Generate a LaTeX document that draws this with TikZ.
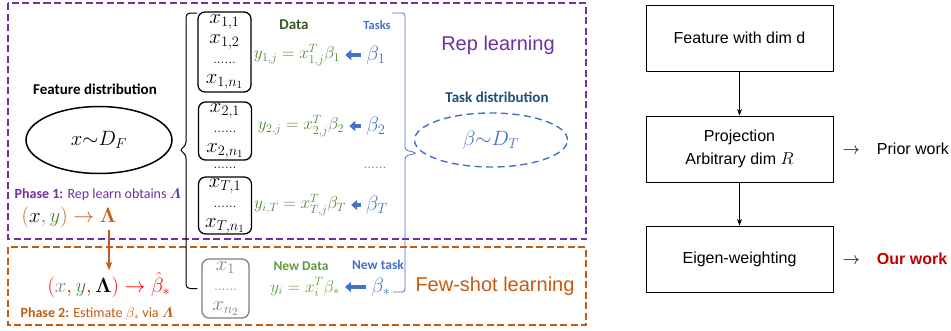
\documentclass[tikz,border=0pt]{standalone}
\usepackage{amsmath,amssymb,bm}
\usepackage{xcolor}
\usepackage{fontspec}
\setsansfont{Liberation Sans}
\newfontfamily\calibri{Carlito}
\usepackage{tikz}
\usetikzlibrary{shapes.geometric,arrows.meta,positioning}

\definecolor{replearn}{HTML}{7030A0}
\definecolor{fewshot}{HTML}{C55A11}
\definecolor{datagreen}{HTML}{385723}
\definecolor{eqgreen}{HTML}{548235}
\definecolor{newgreen}{HTML}{5E9B3A}
\definecolor{taskblue}{HTML}{4472C4}
\definecolor{distblue}{HTML}{1F4E79}
\definecolor{ourred}{HTML}{C00000}

\begin{document}
\begin{tikzpicture}[
		x=1pt, y=-1pt,
		>=Stealth,
		region/.style={draw, line width=1.4pt, dash pattern=on 7pt off 3.5pt},
		databox/.style={draw, rounded corners=7pt, line width=1.3pt, minimum width=53pt, inner sep=1pt, align=center, font={\fontsize{22}{20}\selectfont}},
		eqn/.style={text=eqgreen, inner sep=1pt, font={\fontsize{17.5}{18}\selectfont}},
		task/.style={text=taskblue, inner sep=1pt, font={\fontsize{22}{22}\selectfont}},
		tag/.style={inner sep=0pt, font={\calibri\bfseries\fontsize{#1}{#1}\selectfont}},
		phase/.style={inner sep=0pt, font={\calibri\fontsize{14}{16}\selectfont}},
		tuple/.style={inner sep=0pt, font={\fontsize{22}{22}\selectfont}},
		feed/.style={draw=taskblue, line width=3.4pt, -{Triangle[length=6pt,width=10pt]}, shorten <=4pt, shorten >=4pt},
		stage/.style={draw, line width=1pt, minimum width=187pt, minimum height=66pt, align=center, font={\sffamily\fontsize{16}{23}\selectfont}},
		remark/.style={inner sep=0pt, font={\sffamily\fontsize{16}{19}\selectfont}}
		]
		\useasboundingbox (0,0) rectangle (951,330);
		
		% Regions
		\draw[region, replearn] (8,3) rectangle (586,239);
		\draw[region, fewshot] (8,247) rectangle (586,325);
		
		% Feature distribution and the two phases
		\node[tag=15] (featlab) at (95,89) {Feature distribution};
		\node[ellipse, draw, line width=1.5pt, minimum width=146pt, minimum height=67pt, font={\fontsize{21}{22}\selectfont}] (feat) at (99,140) {$x{\sim}D_F$};
		\node[phase, text=replearn] (ph1) at (98,195) {\textbf{Phase 1:} Rep learn obtains $\boldsymbol{\varLambda}$};
		\node[tuple, text=fewshot] (tup1) at (69,217) {$(\textcolor{black}{x}, \textcolor{eqgreen}{y}) \rightarrow \boldsymbol{\Lambda}$};
		\node[tuple, text=red] (tup2) at (109,285) {$(\textcolor{gray}{x}, \textcolor{eqgreen}{y}, \textcolor{black}{\boldsymbol{\Lambda}}) \rightarrow \hat{\beta}_*$};
		\node[phase, text=fewshot] (ph2) at (97,314) {\textbf{Phase 2:} Estimate $\beta_*$ via $\boldsymbol{\varLambda}$};
		\draw[->, fewshot, line width=1.3pt] ([yshift=-2pt]tup1.south -| tup2.north) -- ([yshift=2pt]tup2.north);
		
		% Data sets
		\node[databox, minimum height=80pt] (set1) at (224.5,52) {$x_{1,1}$\\$x_{1,2}$\\{\fontsize{14}{20}\selectfont ......}\\$x_{1,n_1}$};
		\node[databox, minimum height=58pt] (set2) at (225,131) {$x_{2,1}$\\{\fontsize{14}{18}\selectfont ......}\\$x_{2,n_1}$};
		\node[font={\fontsize{14}{14}\selectfont}] (setdots) at (225,168) {......};
		\node[databox, minimum height=55pt] (setT) at (225,205.5) {$x_{T,1}$\\{\fontsize{14}{18}\selectfont ......}\\$x_{T,n_1}$};
		\node[databox, draw=gray, text=gray, minimum height=59pt, minimum width=47pt] (newset) at (225.5,288.5) {$x_1$\\{\fontsize{14}{18}\selectfont ......}\\$x_{n_2}$};
		
		% Brace over all data sets
		\draw[line width=1pt, rounded corners=4pt] (197,13) -- (186,13) -- (186,146) -- (179,150) -- (186,154) |- ([xshift=-4pt]newset.west);
		
		% Labels
		\node[tag=15, text=datagreen] (datalab) at (294,25) {Data};
		\node[tag=12.5, text=taskblue] (tasklab) at (377,25) {Tasks};
		\node[tag=13.5, text=newgreen] (newdatalab) at (301,266) {New Data};
		\node[tag=13.5, text=taskblue] (newtasklab) at (378,265) {New task};
		
		% Equations and tasks
		\node[eqn] (eq1) at (297,55) {$y_{1,j} = x_{1,j}^{T}\beta_1$};
		\node[eqn] (eq2) at (301,126) {$y_{2,j} = x_{2,j}^{T}\beta_2$};
		\node[eqn] (eqT) at (300,205) {$y_{i,T} = x_{T,j}^{T}\beta_T$};
		\node[eqn, text=newgreen] (eqnew) at (305,287) {$y_i = x_i^{T}\beta_*$};
		
		\node[task] (b1) at (376,55) {$\beta_1$};
		\node[task] (b2) at (376,126) {$\beta_2$};
		\node[task, font={\fontsize{14}{14}\selectfont}] (bdots) at (375,168) {......};
		\node[task] (bT) at (377,205) {$\beta_T$};
		\node[task] (bstar) at (381,287) {$\beta_*$};
		
		\draw[feed] (b1) -- (eq1);
		\draw[feed] (b2) -- (eq2);
		\draw[feed] (bT) -- (eqT);
		\draw[feed] (bstar) -- (eqnew);
		
		% Brace over all tasks
		\draw[taskblue, line width=0.8pt, rounded corners=3pt] (392,13) -- (405,13) -- (405,150) -- (417,153) -- (405,156) -- (405,292) -- (393,292);
		
		% Task distribution
		\node[font={\sffamily\fontsize{20}{22}\selectfont}, text=replearn] (replab) at (498,45) {Rep learning};
		\node[tag=15, text=distblue] (distlab) at (497,97) {Task distribution};
		\node[ellipse, draw=taskblue, line width=1.4pt, dash pattern=on 7pt off 4.5pt, minimum width=153pt, minimum height=54pt, text=taskblue, font={\fontsize{21}{22}\selectfont}] (taskdist) at (491,140) {$\beta{\sim}D_T$};
		\node[font={\sffamily\fontsize{20}{22}\selectfont}, text=fewshot] (fewlab) at (495,286) {Few-shot learning};
		
		% Right: pipeline
		\node[stage] (raw) at (739.5,38) {Feature with dim d};
		\node[stage, below=44pt of raw] (proj) {Projection\\Arbitrary dim $R$};
		\node[stage, below=43pt of proj] (eigen) {Eigen-weighting};
		\draw[->, line width=0.8pt] (raw) -- (proj);
		\draw[->, line width=0.8pt] (proj) -- (eigen);
		\node[remark, right=9pt of proj] (prior) {$\rightarrow$\hspace{17pt}Prior work};
		\node[remark, right=9pt of eigen] (ours) {$\rightarrow$\hspace{17pt}\textcolor{ourred}{\bfseries Our work}};
		
	\end{tikzpicture}
\end{document}
